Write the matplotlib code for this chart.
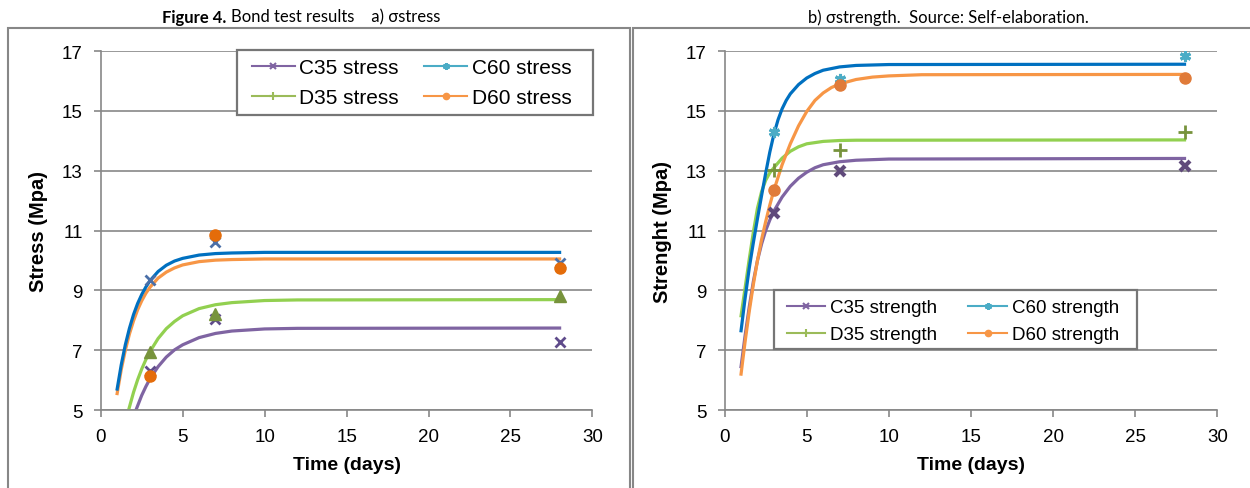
import matplotlib
matplotlib.use('Agg')
import matplotlib.pyplot as plt
from matplotlib.lines import Line2D
from matplotlib.patches import Rectangle

# test ages (days) where specimens were measured
days = [3, 7, 28]

# a) bond stress (MPa)
stress_c35 = [6.31, 8.04, 7.28]
stress_c60 = [9.33, 10.63, 9.92]
stress_d35 = [6.93, 8.21, 8.82]
stress_d60 = [6.15, 10.85, 9.74]

# b) bond strength (MPa)
strength_c35 = [11.6, 12.98, 13.17]
strength_c60 = [14.3, 16.07, 16.85]
strength_d35 = [13.04, 13.7, 14.31]
strength_d60 = [12.36, 15.87, 16.09]

# trend curves, points
fit_stress_c60_x = [1, 1.25, 1.5, 1.75, 2, 2.25, 2.5, 2.75, 3, 3.5, 4, 4.5, 5, 6, 7, 8, 10, 28]
fit_stress_c60_y = [5.7, 6.51, 7.18, 7.73, 8.19, 8.56, 8.86, 9.11, 9.32, 9.63, 9.84, 9.98, 10.07,
                    10.18, 10.23, 10.25, 10.27, 10.27]
fit_stress_d60_x = [1, 1.25, 1.5, 1.75, 2, 2.25, 2.5, 2.75, 3, 3.5, 4, 4.5, 5, 6, 7, 8, 10, 28]
fit_stress_d60_y = [5.55, 6.35, 7.0, 7.54, 7.98, 8.35, 8.65, 8.9, 9.1, 9.41, 9.61, 9.75, 9.85,
                    9.96, 10.01, 10.03, 10.05, 10.05]
fit_stress_d35_x = [1.6, 1.7, 2, 2.25, 2.5, 2.75, 3, 3.5, 4, 4.5, 5, 6, 7, 8, 10, 12, 28]
fit_stress_d35_y = [4.78, 5.0, 5.59, 6.01, 6.37, 6.68, 6.95, 7.39, 7.72, 7.96, 8.15, 8.39, 8.52,
                    8.59, 8.66, 8.68, 8.69]
fit_stress_c35_x = [2.05, 2.15, 2.5, 2.75, 3, 3.5, 4, 4.5, 5, 6, 7, 8, 10, 12, 28]
fit_stress_c35_y = [4.84, 5.0, 5.49, 5.78, 6.04, 6.45, 6.77, 7.01, 7.18, 7.42, 7.56, 7.64, 7.71,
                    7.73, 7.74]

fit_strength_c60_x = [1, 1.25, 1.5, 1.75, 2, 2.25, 2.5, 2.75, 3, 3.25, 3.5, 3.75, 4, 4.5, 5, 5.5,
                      6, 7, 8, 10, 28]
fit_strength_c60_y = [7.65, 8.75, 9.75, 10.6, 11.4, 12.17, 12.92, 13.62, 14.22, 14.7, 15.07, 15.35,
                      15.57, 15.88, 16.1, 16.25, 16.36, 16.47, 16.52, 16.55, 16.56]
fit_strength_d60_x = [1, 1.25, 1.5, 1.75, 2, 2.25, 2.5, 2.75, 3, 3.5, 4, 4.5, 5, 5.5, 6, 6.5, 7,
                      8, 9, 10, 12, 28]
fit_strength_d60_y = [6.2, 7.3, 8.3, 9.2, 10.0, 10.7, 11.3, 11.85, 12.35, 13.2, 13.9, 14.5, 14.98,
                      15.35, 15.6, 15.78, 15.9, 16.05, 16.13, 16.17, 16.21, 16.22]
fit_strength_d35_x = [1, 1.25, 1.5, 1.75, 2, 2.25, 2.5, 2.75, 3, 3.5, 4, 4.5, 5, 6, 7, 8, 28]
fit_strength_d35_y = [8.15, 9.1, 10.05, 10.95, 11.75, 12.3, 12.68, 12.93, 13.1, 13.42, 13.65, 13.8,
                      13.9, 13.98, 14.01, 14.02, 14.03]
fit_strength_c35_x = [1, 1.25, 1.5, 1.75, 2, 2.25, 2.5, 2.75, 3, 3.5, 4, 4.5, 5, 5.5, 6, 7, 8, 10, 28]
fit_strength_c35_y = [6.45, 7.5, 8.45, 9.3, 10.0, 10.55, 11.0, 11.35, 11.65, 12.12, 12.48, 12.75,
                      12.95, 13.1, 13.2, 13.3, 13.35, 13.39, 13.41]

y_ticks = [5, 7, 9, 11, 13, 15, 17]
x_ticks = [0, 5, 10, 15, 20, 25, 30]

grid_col = '#878787'
line_blue = '#0070C0'
line_orange = '#F79646'
line_green = '#92D050'
line_purple = '#7F64A2'

plt.rcParams['font.family'] = ['Liberation Sans', 'DejaVu Sans']

fig = plt.figure(figsize=(12.5, 4.89), dpi=100)
ax1 = fig.add_axes([0.0806, 0.1595, 0.3933, 0.734])
ax2 = fig.add_axes([0.5797, 0.1595, 0.3942, 0.734])


def style_axes(ax, ylabel):
    ax.set_xlim(0, 30)
    ax.set_ylim(5, 17)
    ax.set_xticks(x_ticks)
    ax.set_yticks(y_ticks)
    ax.yaxis.grid(True, color=grid_col, linewidth=1.2)
    ax.set_axisbelow(True)
    for s in ['top', 'right']:
        ax.spines[s].set_visible(False)
    for s in ['left', 'bottom']:
        ax.spines[s].set_color(grid_col)
        ax.spines[s].set_linewidth(1.2)
    ax.tick_params(axis='both', direction='out', length=5, width=1.2,
                   color=grid_col, labelsize=13.5)
    ax.tick_params(axis='x', pad=8)
    ax.tick_params(axis='y', pad=8)
    ax.set_xlabel('Time (days)', fontsize=14, fontweight='bold', labelpad=8)
    ax.set_ylabel(ylabel, fontsize=14.5, fontweight='bold')
    ax.yaxis.set_label_coords(-0.107, 0.5)


def legend_handles(suffix):
    return [
        Line2D([], [], color='#8064A2', marker='x', markersize=4.5, mew=1.5, lw=1.5, label='C35 ' + suffix),
        Line2D([], [], color='#9BBB59', marker='+', markersize=6, mew=1.5, lw=1.5, label='D35 ' + suffix),
        Line2D([], [], color='#4BACC6', marker=(6, 2, 0), markersize=5, mew=1.5, lw=1.5, label='C60 ' + suffix),
        Line2D([], [], color='#F79646', marker='o', markersize=4.5, lw=1.5, label='D60 ' + suffix),
    ]


def boxed_legend(ax, suffix, anchor, box, size, hlen, hpad, cspace, lspace):
    x0, y0, x1, y1 = box
    ax.add_patch(Rectangle((x0, y0), x1 - x0, y1 - y0, transform=ax.transAxes,
                           facecolor='white', edgecolor='#767676', linewidth=1.6,
                           clip_on=False, zorder=5))
    leg = ax.legend(handles=legend_handles(suffix), ncol=2, loc='upper left',
                    bbox_to_anchor=anchor, fontsize=size, frameon=False,
                    handlelength=hlen, handletextpad=hpad, columnspacing=cspace,
                    labelspacing=lspace, borderpad=0, borderaxespad=0)
    leg.set_zorder(6)


# ---- a) stress ----
ax1.plot(fit_stress_c35_x, fit_stress_c35_y, color=line_purple, lw=2.3, zorder=2)
ax1.plot(fit_stress_d35_x, fit_stress_d35_y, color=line_green, lw=2.3, zorder=2)
ax1.plot(fit_stress_d60_x, fit_stress_d60_y, color=line_orange, lw=2.3, zorder=2)
ax1.plot(fit_stress_c60_x, fit_stress_c60_y, color=line_blue, lw=2.3, zorder=2)

ax1.plot(days, stress_c35, ls='none', marker='x', color='#5F4B8B', markersize=7, mew=2, zorder=3)
ax1.plot(days, stress_c60, ls='none', marker='x', color='#4A6FA8', markersize=7, mew=2, zorder=3)
ax1.plot(days, stress_d35, ls='none', marker='^', color='#77933C', markersize=8.5, zorder=3)
ax1.plot(days, stress_d60, ls='none', marker='o', color='#E46C0A', markersize=8, zorder=3)

style_axes(ax1, 'Stress (Mpa)')
boxed_legend(ax1, 'stress', (0.307, 0.9797), (0.2764, 0.8217, 1.0006, 1.002),
             15, 2.07, 0.2, 1.23, 0.53)

# ---- b) strength ----
ax2.plot(fit_strength_c35_x, fit_strength_c35_y, color=line_purple, lw=2.3, zorder=2)
ax2.plot(fit_strength_d35_x, fit_strength_d35_y, color=line_green, lw=2.3, zorder=2)
ax2.plot(fit_strength_d60_x, fit_strength_d60_y, color=line_orange, lw=2.3, zorder=2)
ax2.plot(fit_strength_c60_x, fit_strength_c60_y, color=line_blue, lw=2.3, zorder=2)

ax2.plot(days, strength_c35, ls='none', marker='x', color='#604A7B', markersize=7, mew=3, zorder=3)
ax2.plot(days, strength_c60, ls='none', marker=(6, 2, 0), color='#4BACC6', markersize=8, mew=2.2, zorder=3)
ax2.plot(days, strength_d35, ls='none', marker='+', color='#77933C', markersize=10, mew=2, zorder=3)
ax2.plot(days, strength_d60, ls='none', marker='o', color='#E07B39', markersize=8, zorder=3)

style_axes(ax2, 'Strenght (Mpa)')
boxed_legend(ax2, 'strength', (0.126, 0.3086), (0.1002, 0.1708, 0.8362, 0.3351),
             13.5, 2.04, 0.27, 1.67, 0.53)

# panel frames
fig.add_artist(Rectangle((0.0064, -0.1), 0.504 - 0.0064, 0.9407 + 0.1, transform=fig.transFigure,
                         fill=False, edgecolor=grid_col, linewidth=1.5))
fig.add_artist(Rectangle((0.506, -0.1), 0.6, 0.9407 + 0.1, transform=fig.transFigure,
                         fill=False, edgecolor=grid_col, linewidth=1.5))

# captions
title_font = ['Lato', 'DejaVu Sans']
fig.text(226 / 1250, 0.9536, 'Figure 4.', ha='right', va='baseline', fontsize=12,
         fontweight='bold', family=title_font)
fig.text(231 / 1250, 0.9536, 'Bond test results    a) \u03c3stress', ha='left', va='baseline',
         fontsize=12, family=title_font)
fig.text(948 / 1250, 0.9536, 'b) \u03c3strength.  Source: Self-elaboration.', ha='center',
         va='baseline', fontsize=12, family=title_font)

fig.savefig('out.png', dpi=100)
